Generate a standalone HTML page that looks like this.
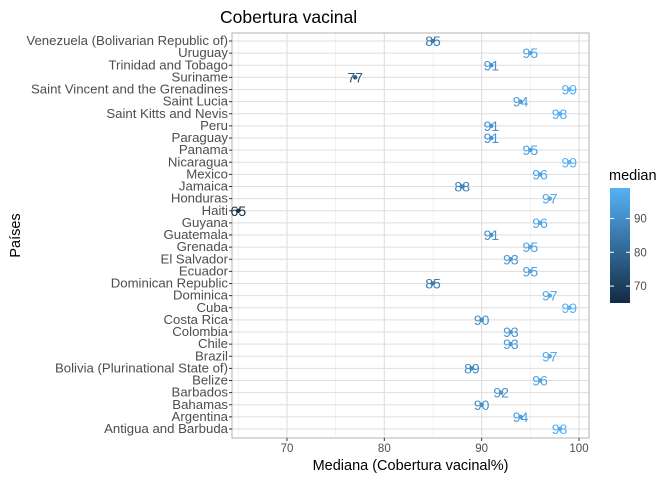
<!DOCTYPE html>
<html><head><meta charset="utf-8"><style>
body{margin:0;background:#fff;font-family:"Liberation Sans",sans-serif}
</style></head><body>
<svg id="c" width="672" height="480" xmlns="http://www.w3.org/2000/svg" font-family="Liberation Sans, sans-serif"></svg>
<script>
const countries=["Venezuela (Bolivarian Republic of)","Uruguay","Trinidad and Tobago","Suriname","Saint Vincent and the Grenadines","Saint Lucia","Saint Kitts and Nevis","Peru","Paraguay","Panama","Nicaragua","Mexico","Jamaica","Honduras","Haiti","Guyana","Guatemala","Grenada","El Salvador","Ecuador","Dominican Republic","Dominica","Cuba","Costa Rica","Colombia","Chile","Brazil","Bolivia (Plurinational State of)","Belize","Barbados","Bahamas","Argentina","Antigua and Barbuda"];
const values=[85,95,91,77,99,94,98,91,91,95,99,96,88,97,65,96,91,95,93,95,85,97,99,90,93,93,97,89,96,92,90,94,98];
const xTicks=[70,80,90,100];
const xMinor=[65,75,85,95];
const legendTicks=[70,80,90];
const svg=document.getElementById('c');const NS="http://www.w3.org/2000/svg";
function mk(t,a,p){const e=document.createElementNS(NS,t);for(const k in a)e.setAttribute(k,a[k]);(p||svg).appendChild(e);return e;}
const L=232,R=589,T=33,B=438;
const x=v=>287+(v-70)*(579-287)/30;
const y=i=>41+i*(429-41)/(countries.length-1);
const vmin=Math.min(...values),vmax=Math.max(...values);
function col(v){const t=(v-vmin)/(vmax-vmin);const a=[0x13,0x2B,0x43],b=[0x56,0xB1,0xF7];return `rgb(${a.map((c,k)=>Math.round(c+(b[k]-c)*t)).join(',')})`;}
const g=mk('g',{});
xMinor.forEach(v=>mk('line',{x1:x(v),x2:x(v),y1:T,y2:B,stroke:'#ebebeb','stroke-width':0.6},g));
xTicks.forEach(v=>mk('line',{x1:x(v),x2:x(v),y1:T,y2:B,stroke:'#dedede','stroke-width':1.1},g));
countries.forEach((c,i)=>mk('line',{x1:L,x2:R,y1:y(i),y2:y(i),stroke:'#dedede','stroke-width':1.1},g));
const pb=mk('rect',{x:L,y:T,width:R-L,height:B-T,fill:'none',stroke:'#b3b3b3','stroke-width':1});

countries.forEach((c,i)=>{
 const t=mk('text',{x:L-4,y:y(i)+4,'text-anchor':'end','font-size':13.2,fill:'#4d4d4d'});t.textContent=c;
 
 mk('line',{x1:L-3,x2:L,y1:y(i),y2:y(i),stroke:'#333'});
 const cc=col(values[i]);
 const p=mk('circle',{cx:x(values[i]),cy:y(i),r:2.2,fill:cc});
 
 const l=mk('text',{x:x(values[i]),y:y(i)+5,'text-anchor':'middle','font-size':14,fill:cc});l.textContent=values[i];
 
});
xTicks.forEach(v=>{mk('line',{x1:x(v),x2:x(v),y1:B,y2:B+3,stroke:'#333'});
 const t=mk('text',{x:x(v),y:B+14,'text-anchor':'middle','font-size':11.5,fill:'#4d4d4d'});t.textContent=v;
 });
let t=mk('text',{x:(L+R)/2,y:470,'text-anchor':'middle','font-size':14.5,fill:'#000'});t.textContent='Mediana (Cobertura vacinal%)';

t=mk('text',{x:0,y:0,'text-anchor':'middle','font-size':14.5,fill:'#000',transform:`translate(20,${(T+B)/2}) rotate(-90)`});t.textContent='Países';

t=mk('text',{x:220,y:23,'font-size':17.5,fill:'#000'});t.textContent='Cobertura vacinal';

const lg=mk('g',{});
t=mk('text',{x:609,y:180,'font-size':14.5,fill:'#000'},lg);t.textContent='median';
const defs=mk('defs',{});const gr=mk('linearGradient',{id:'gr',x1:0,y1:1,x2:0,y2:0},defs);
mk('stop',{offset:0,'stop-color':col(vmin)},gr);mk('stop',{offset:1,'stop-color':col(vmax)},gr);
const lt=188,lb=303;
mk('rect',{x:610,y:lt,width:20,height:lb-lt,fill:'url(#gr)'},lg);
const ly=v=>lb-(v-vmin)/(vmax-vmin)*(lb-lt);
legendTicks.forEach(v=>{mk('line',{x1:610,x2:614,y1:ly(v),y2:ly(v),stroke:'#fff'},lg);mk('line',{x1:626,x2:630,y1:ly(v),y2:ly(v),stroke:'#fff'},lg);
 const e=mk('text',{x:634,y:ly(v)+4,'font-size':11.5,fill:'#4d4d4d'},lg);e.textContent=v;});
</script>
</body></html>
